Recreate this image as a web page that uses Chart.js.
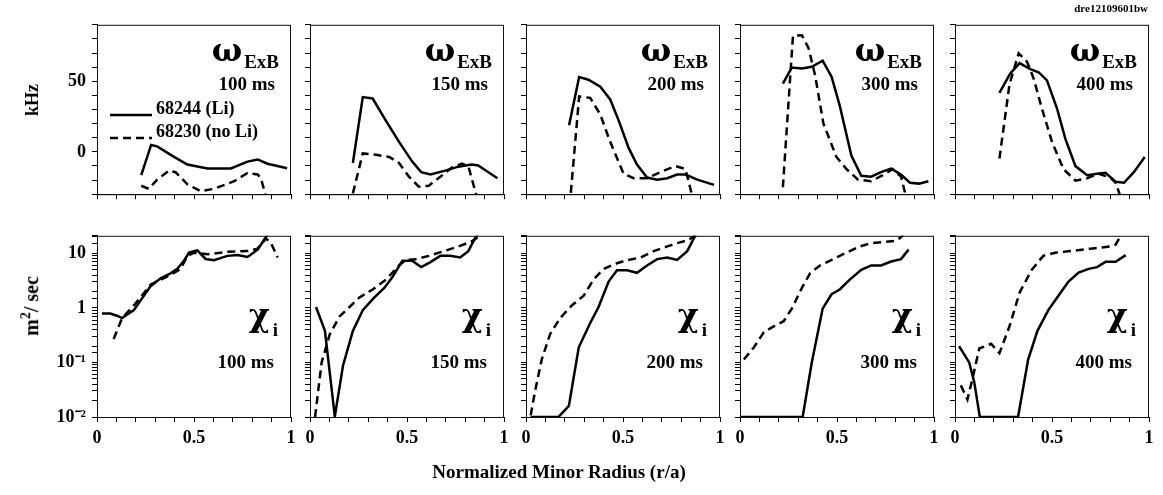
<!DOCTYPE html>
<html>
<head>
<meta charset="utf-8">
<script src="https://cdn.jsdelivr.net/npm/chart.js@4.4.0/dist/chart.umd.min.js"></script>
<style>
  body { margin:0; background:#fff; }
  #page { position:relative; width:1163px; height:495px; overflow:hidden; background:#fff;
          font-family:"Liberation Serif", "DejaVu Serif", serif; font-weight:bold; color:#000; }
  canvas { position:absolute; }
  .txt { position:absolute; white-space:nowrap; line-height:1; }
  .big { font-family:"DejaVu Serif", serif; font-size:32px; font-weight:bold; }
  .sub { font-size:19px; }
  .ms { font-size:19px; }
</style>
</head>
<body>
<div id="page"></div>
<script>
// ---- data: [r/a, value] ----
const times = ["100 ms", "150 ms", "200 ms", "300 ms", "400 ms"];
const shots = ["68244 (Li)", "68230 (no Li)"];

// omega ExB (kHz)
const exbLi100 = [[0.228,-16.5],[0.279,4.9],[0.31,3.9],[0.397,-3.6],[0.466,-9],[0.569,-11.8],[0.69,-11.8],[0.776,-6.9],[0.828,-5.4],[0.879,-8.4],[0.98,-11.6]];
const exbNoLi100 = [[0.228,-24],[0.267,-26.2],[0.31,-19.7],[0.371,-13.3],[0.405,-14.4],[0.466,-23],[0.534,-27.9],[0.603,-26.2],[0.707,-20.8],[0.776,-15],[0.828,-16],[0.845,-18.7],[0.875,-34]];
const exbLi150 = [[0.221,-7.9],[0.272,38.8],[0.323,37.8],[0.391,22.1],[0.459,7.1],[0.527,-6.9],[0.573,-14.4],[0.621,-16.1],[0.697,-13.3],[0.765,-10.5],[0.833,-9],[0.867,-9.7],[0.966,-18.7]];
const exbNoLi150 = [[0.221,-29.4],[0.272,-1.1],[0.34,-2.1],[0.408,-3.6],[0.459,-7.9],[0.51,-17.6],[0.561,-24.7],[0.612,-24],[0.672,-17.6],[0.731,-11.2],[0.782,-8.4],[0.816,-10.1],[0.862,-33]];
const exbLi200 = [[0.222,18.9],[0.274,53],[0.322,51.1],[0.383,46.1],[0.434,37.1],[0.478,22.1],[0.529,2.8],[0.572,-9],[0.624,-18.2],[0.676,-19.7],[0.728,-18.7],[0.779,-16.1],[0.822,-16.1],[0.883,-19.7],[0.969,-23.4]];
const exbNoLi200 = [[0.231,-29],[0.274,39.3],[0.331,38.2],[0.383,26.4],[0.434,7.1],[0.503,-15.5],[0.555,-18.7],[0.624,-18.7],[0.71,-13.3],[0.771,-10.1],[0.822,-12.2],[0.86,-33]];
const exbLi300 = [[0.221,48.3],[0.267,59.7],[0.319,59],[0.37,60.3],[0.426,64.6],[0.472,53.2],[0.514,32.8],[0.574,-2.6],[0.625,-17],[0.676,-17.6],[0.727,-14.4],[0.779,-11.8],[0.83,-16.1],[0.876,-21.9],[0.923,-22.5],[0.971,-20.8]];
const exbNoLi300 = [[0.221,-25.1],[0.273,82.2],[0.319,82.6],[0.353,73.6],[0.387,54.3],[0.43,20],[0.497,-3.6],[0.549,-12.2],[0.608,-19.7],[0.676,-20.8],[0.736,-16.5],[0.787,-12.2],[0.83,-17.6],[0.858,-33]];
const exbLi400 = [[0.229,41.8],[0.284,55.4],[0.333,62.9],[0.388,58.6],[0.431,56.4],[0.474,50.6],[0.526,30.7],[0.569,9.2],[0.621,-10.1],[0.681,-16.5],[0.733,-15.5],[0.776,-14.8],[0.828,-21.2],[0.871,-21.9],[0.922,-14.4],[0.978,-3.6]];
const exbNoLi400 = [[0.229,-4.7],[0.281,47.9],[0.328,69.7],[0.371,63.9],[0.405,52.1],[0.448,30.7],[0.5,7.1],[0.559,-12.2],[0.621,-20.4],[0.681,-18.7],[0.741,-15.5],[0.8,-18.2],[0.828,-21.9],[0.856,-33]];

// chi_i (m^2/sec)
const chiLi100 = [[0.026,0.79],[0.069,0.79],[0.103,0.72],[0.129,0.65],[0.164,0.79],[0.19,0.91],[0.224,1.36],[0.276,2.5],[0.328,3.5],[0.379,4.3],[0.414,5.2],[0.448,7.3],[0.474,10.3],[0.517,11.3],[0.56,7.9],[0.603,7.5],[0.672,9.0],[0.724,9.3],[0.776,8.6],[0.828,11.7],[0.871,20],[0.885,24]];
const chiNoLi100 = [[0.086,0.27],[0.129,0.65],[0.19,1.11],[0.224,1.56],[0.276,2.67],[0.328,3.3],[0.379,4],[0.431,5.2],[0.466,9],[0.5,10.3],[0.569,9.6],[0.672,10.7],[0.776,11],[0.828,12.2],[0.871,18.8],[0.897,15.4],[0.931,8.4]];
const chiLi150 = [[0.031,1.04],[0.077,0.38],[0.128,0.0102],[0.17,0.087],[0.221,0.38],[0.272,0.91],[0.332,1.56],[0.383,2.33],[0.425,3.7],[0.476,7.3],[0.527,7.3],[0.573,5.6],[0.621,6.9],[0.672,9],[0.723,9],[0.774,8.4],[0.816,11],[0.85,18.8],[0.867,23]];
const chiNoLi150 = [[0.026,0.01],[0.06,0.1],[0.102,0.33],[0.153,0.7],[0.204,1.04],[0.255,1.56],[0.323,2.18],[0.391,3.3],[0.459,6],[0.493,7.6],[0.544,7.8],[0.612,9],[0.68,10.7],[0.765,13.4],[0.833,16.5],[0.867,20]];
const chiLi200 = [[0.024,0.01],[0.167,0.01],[0.221,0.016],[0.272,0.19],[0.331,0.53],[0.374,1.04],[0.426,3.05],[0.469,4.9],[0.521,4.9],[0.572,4.4],[0.624,6],[0.676,7.85],[0.728,8.4],[0.779,7.6],[0.831,11],[0.869,20],[0.88,24]];
const chiNoLi200 = [[0.024,0.0107],[0.047,0.03],[0.081,0.113],[0.124,0.33],[0.176,0.65],[0.236,1.11],[0.297,1.67],[0.348,3.3],[0.4,5.2],[0.469,6.6],[0.521,7.5],[0.59,8.4],[0.659,11],[0.728,13.4],[0.779,15.4],[0.84,17.6],[0.866,21],[0.875,24]];
const chiLi300 = [[0.003,0.01],[0.323,0.01],[0.37,0.1],[0.426,0.97],[0.472,1.78],[0.514,2.18],[0.566,3.3],[0.625,5.0],[0.676,6],[0.727,6],[0.779,7.1],[0.83,7.85],[0.869,11.7]];
const chiNoLi300 = [[0.02,0.113],[0.072,0.19],[0.123,0.36],[0.174,0.46],[0.225,0.57],[0.267,0.97],[0.319,2.33],[0.361,4.3],[0.412,6],[0.463,7.3],[0.514,9],[0.566,11],[0.617,13.4],[0.676,15.4],[0.736,16.1],[0.804,16.9],[0.821,18.8],[0.838,21],[0.845,24]];
const chiLi400 = [[0.021,0.2],[0.073,0.1],[0.099,0.044],[0.128,0.01],[0.325,0.01],[0.377,0.113],[0.425,0.38],[0.481,0.91],[0.533,1.67],[0.585,3.05],[0.637,4.46],[0.689,5.2],[0.733,5.6],[0.776,7.0],[0.828,7.0],[0.88,9.3]];
const chiNoLi400 = [[0.03,0.038],[0.064,0.021],[0.09,0.05],[0.125,0.18],[0.186,0.22],[0.229,0.148],[0.281,0.46],[0.333,1.91],[0.394,4.9],[0.455,9.0],[0.516,10.3],[0.594,11],[0.698,12.2],[0.802,13.4],[0.828,14.4],[0.854,21],[0.86,24]];

const exbLi = [exbLi100, exbLi150, exbLi200, exbLi300, exbLi400];
const exbNoLi = [exbNoLi100, exbNoLi150, exbNoLi200, exbNoLi300, exbNoLi400];
const chiLi = [chiLi100, chiLi150, chiLi200, chiLi300, chiLi400];
const chiNoLi = [chiNoLi100, chiNoLi150, chiNoLi200, chiNoLi300, chiNoLi400];

// tick labels
const xTickLabels = [[0, "0"], [0.5, "0.5"], [1, "1"]];
const exbTickLabels = [[0, "0"], [50, "50"]];
const chiTickLabels = [[0.01, "10\u207B\u00B2"], [0.1, "10\u207B\u00B9"], [1, "1"], [10, "10"]];

// ---- layout ----
const page = document.getElementById("page");
const panelLefts = [97, 310, 526, 740, 955];
const PW = 194;
const rows = [{ top: 16, h: 187, xh: 8 }, { top: 227, h: 190, xh: 34 }];
const YW = 62, PT = 8, PR = 14;
const FONT = { family: "'Liberation Serif', serif", size: 18, weight: "bold" };

function labelFor(list, v) {
  const hit = list.find(([t]) => Math.abs(t - v) < 1e-6 * Math.max(1, Math.abs(t)));
  return hit ? hit[1] : "";
}

// frame around each panel
const framePlugin = {
  id: "frame",
  afterDraw(chart) {
    const { ctx, chartArea: a } = chart;
    ctx.save();
    ctx.strokeStyle = "#111";
    ctx.lineWidth = 1;
    ctx.strokeRect(a.left + 0.5, a.top + 0.5, a.right - a.left - 1, a.bottom - a.top);
    ctx.restore();
  },
};

function toXY(pairs) {
  return pairs.map(([x, y]) => ({ x, y }));
}

function makePanel(col, row) {
  const r = rows[row];
  const canvas = document.createElement("canvas");
  canvas.width = YW + PW + PR;
  canvas.height = PT + r.h + r.xh;
  canvas.style.left = panelLefts[col] - YW + "px";
  canvas.style.top = r.top - PT + "px";
  page.appendChild(canvas);

  const solid = row === 0 ? exbLi[col] : chiLi[col];
  const dashed = row === 0 ? exbNoLi[col] : chiNoLi[col];

  const yScale = row === 0
    ? { type: "linear", min: -30, max: 90, ticks: { stepSize: 10,
        callback: (v) => (col === 0 ? labelFor(exbTickLabels, v) : "") } }
    : { type: "logarithmic", min: 0.01, max: 21, ticks: {
        callback: (v) => (col === 0 ? labelFor(chiTickLabels, v) : "") } };

  Object.assign(yScale.ticks, { autoSkip: false, font: FONT, color: "#000", padding: 6 });
  yScale.grid = { drawOnChartArea: false, tickLength: 5, color: "#000", lineWidth: 1 };
  yScale.border = { display: true, color: "#000" };
  yScale.afterFit = (s) => { s.width = YW; };

  new Chart(canvas, {
    type: "line",
    data: {
      datasets: [
        { label: shots[0], data: toXY(solid), borderColor: "#000", borderWidth: 2.5,
          pointRadius: 0, tension: 0, fill: false },
        { label: shots[1], data: toXY(dashed), borderColor: "#000", borderWidth: 2.5,
          borderDash: [8, 5], pointRadius: 0, tension: 0, fill: false },
      ],
    },
    options: {
      responsive: false,
      animation: false,
      events: [],
      layout: { padding: { top: PT, right: PR, left: 0, bottom: 0 } },
      plugins: { legend: { display: false }, tooltip: { enabled: false } },
      scales: {
        x: {
          type: "linear", min: 0, max: 1,
          ticks: { stepSize: 0.1, autoSkip: false, maxRotation: 0, font: FONT, color: "#000", padding: 6,
            callback: (v) => (row === 1 ? labelFor(xTickLabels, v) : "") },
          grid: { drawOnChartArea: false, tickLength: 5, color: "#000", lineWidth: 1 },
          border: { display: true, color: "#000" },
          afterFit: (s) => { s.height = r.xh; },
        },
        y: yScale,
      },
    },
    plugins: [framePlugin],
  });

  // panel annotations
  const right = 1163 - (panelLefts[col] + PW);
  const t1 = document.createElement("div");
  t1.className = "txt";
  const t2 = document.createElement("div");
  t2.className = "txt ms";
  t2.textContent = times[col];
  if (row === 0) {
    t1.innerHTML = '<span class="big">\u03C9</span><span class="sub" style="position:relative;top:7px;margin-left:2px">ExB</span>';
    t1.style.right = right + 12 + "px";
    t1.style.top = r.top + 18 + "px";
    t2.style.right = right + 16 + "px";
    t2.style.top = r.top + 58 + "px";
  } else {
    t1.innerHTML = '<span class="big">\u03C7</span><span class="sub" style="position:relative;top:10px;margin-left:3px">i</span>';
    t1.style.right = right + 13 + "px";
    t1.style.top = r.top + 72 + "px";
    t2.style.right = right + 17 + "px";
    t2.style.top = r.top + 125 + "px";
  }
  page.appendChild(t1);
  page.appendChild(t2);
}

for (let row = 0; row < 2; row++) {
  for (let col = 0; col < 5; col++) makePanel(col, row);
}

// legend, axis titles and tag
function addText(html, css) {
  const d = document.createElement("div");
  d.className = "txt";
  d.innerHTML = html;
  Object.assign(d.style, css);
  page.appendChild(d);
  return d;
}
addText('<svg width="42" height="6"><line x1="0" y1="3" x2="42" y2="3" stroke="#000" stroke-width="2.5"/></svg>',
  { left: "110px", top: "105px" });
addText('<svg width="42" height="6"><line x1="0" y1="3" x2="42" y2="3" stroke="#000" stroke-width="2.5" stroke-dasharray="8 5"/></svg>',
  { left: "110px", top: "128px" });
addText(shots[0], { left: "156px", top: "99px", fontSize: "18px" });
addText(shots[1], { left: "156px", top: "122px", fontSize: "18px" });

addText("kHz", { left: "32px", top: "100px", fontSize: "18px", transform: "translate(-50%,-50%) rotate(-90deg)" });
addText('m<sup style="font-size:14px">2</sup>/ sec', { left: "30px", top: "306px", fontSize: "20px",
  transform: "translate(-50%,-50%) rotate(-90deg)" });
addText("Normalized Minor Radius (r/a)", { left: "559px", top: "462px", fontSize: "19px", transform: "translateX(-50%)" });
addText("dre12109601bw", { right: "15px", top: "3px", fontSize: "11px" });
</script>
</body>
</html>
